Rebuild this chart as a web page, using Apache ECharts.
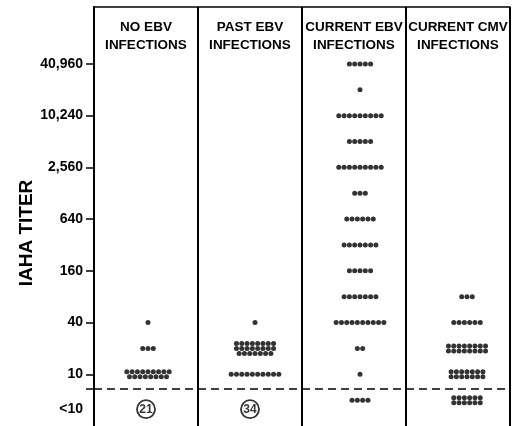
<!DOCTYPE html>
<html>
<head>
<meta charset="utf-8">
<script src="https://cdn.jsdelivr.net/npm/echarts@6/dist/echarts.min.js"></script>
<style>
html,body{margin:0;padding:0;background:#fff;}
#chart{width:528px;height:426px;}
</style>
</head>
<body>
<div id="chart"></div>
<script>
// ---- data ----
const CATEGORIES = ['NO EBV\nINFECTIONS', 'PAST EBV\nINFECTIONS', 'CURRENT EBV\nINFECTIONS', 'CURRENT CMV\nINFECTIONS'];
const TITER_LEVELS = ['<10', '10', '20', '40', '80', '160', '320', '640', '1280', '2560', '5120', '10240', '20480', '40960'];
// number of subjects at each titer level (same order as TITER_LEVELS)
const NO_EBV      = [0, 17, 3, 1, 0, 0, 0, 0, 0, 0, 0, 0, 0, 0];
const PAST_EBV    = [0, 10, 23, 1, 0, 0, 0, 0, 0, 0, 0, 0, 0, 0];
const CURRENT_EBV = [4, 1, 2, 10, 7, 5, 7, 6, 3, 9, 5, 9, 1, 5];
const CURRENT_CMV = [12, 14, 16, 6, 3, 0, 0, 0, 0, 0, 0, 0, 0, 0];
const GROUP_N = ['21', '34', '', ''];
const Y_TICK_LABELS = ['<10', '10', '40', '160', '640', '2,560', '10,240', '40,960'];
const Y_TITLE = 'IAHA TITER';

// ---- layout constants ----
const DOT_SIZE = 5;
const DOT_STEP = 5.3;
const ROW_GAP = 5;
const COLUMN_DOT_SHIFT = [2, 5, 6, 9];   // px, horizontal nudge of each dot cluster
const LT10_LABEL_POS = -1.35;
const CUTOFF_POS = -0.57;

function levelValue(i) {
  return i === 0 ? Math.log2(5 / 10) : Math.log2(Number(TITER_LEVELS[i]) / 10);
}

function buildDots(counts, col) {
  const out = [];
  counts.forEach((c, i) => {
    if (!c) return;
    const rows = c > 10 ? Math.ceil(c / 9) : 1;
    const base = Math.floor(c / rows), extra = c % rows;
    for (let r = 0; r < rows; r++) {
      const n = base + (r < extra ? 1 : 0);
      const dy = (r - (rows - 1) / 2) * ROW_GAP;
      for (let k = 0; k < n; k++) {
        const dx = (k - (n - 1) / 2) * DOT_STEP + COLUMN_DOT_SHIFT[col];
        out.push({ value: [col, levelValue(i)], symbolOffset: [dx, dy] });
      }
    }
  });
  return out;
}

const FONT = '"Liberation Sans", Arial, sans-serif';
const groups = [NO_EBV, PAST_EBV, CURRENT_EBV, CURRENT_CMV];

const dotSeries = groups.map((g, col) => ({
  type: 'scatter',
  name: CATEGORIES[col],
  data: buildDots(g, col),
  symbol: 'circle',
  symbolSize: DOT_SIZE,
  itemStyle: { color: '#000' },
  silent: true,
  z: 3
}));

dotSeries[0].markLine = {
  silent: true,
  symbol: 'none',
  label: { show: false },
  lineStyle: { color: '#000', type: [8, 5], width: 1.6 },
  data: [{ yAxis: CUTOFF_POS }]
};

const nSeries = {
  type: 'scatter',
  data: GROUP_N.map((n, i) => n ? { value: [i, LT10_LABEL_POS], label: { formatter: n } } : null).filter(Boolean),
  symbol: 'circle',
  symbolSize: 18,
  itemStyle: { color: '#fff', borderColor: '#000', borderWidth: 1.8 },
  label: { show: true, position: 'inside', color: '#000', fontFamily: FONT, fontWeight: 'bold', fontSize: 12 },
  silent: true,
  z: 4
};

const yLabelValues = [LT10_LABEL_POS, 0, 2, 4, 6, 8, 10, 12];

const chart = echarts.init(document.getElementById('chart'), null, { renderer: 'canvas' });
chart.setOption({
  animation: false,
  backgroundColor: '#fff',
  grid: { left: 94, right: 18, top: 7, height: 422 },
  xAxis: {
    type: 'category',
    position: 'top',
    data: CATEGORIES,
    axisLine: { show: true, onZero: false, lineStyle: { color: '#000', width: 1.5 } },
    axisTick: { show: false },
    axisLabel: {
      inside: true, margin: 11, color: '#000', fontFamily: FONT, fontWeight: 'bold',
      fontSize: 13.5, lineHeight: 18, interval: 0, verticalAlign: 'top'
    },
    splitLine: { show: true, lineStyle: { color: '#000', width: 2 } }
  },
  yAxis: {
    type: 'value',
    min: -2,
    max: 14.2,
    axisLine: { show: true, onZero: false, lineStyle: { color: '#000', width: 2 } },
    axisTick: { show: true, length: 8, lineStyle: { color: '#000', width: 1.5 },
      customValues: [CUTOFF_POS, 0, 2, 4, 6, 8, 10, 12] },
    axisLabel: {
      customValues: yLabelValues,
      margin: 11, color: '#000', fontFamily: FONT, fontWeight: 'bold', fontSize: 14,
      formatter: v => v < 0 ? Y_TICK_LABELS[0] : Y_TICK_LABELS[Math.round(v / 2) + 1]
    },
    splitLine: { show: false }
  },
  graphic: [{
    type: 'text',
    x: 27, y: 233,
    rotation: Math.PI / 2,
    style: { text: Y_TITLE, font: 'bold 19px ' + FONT, fill: '#000', align: 'center', verticalAlign: 'middle' }
  }],
  series: [...dotSeries, nSeries]
});
</script>
</body>
</html>
